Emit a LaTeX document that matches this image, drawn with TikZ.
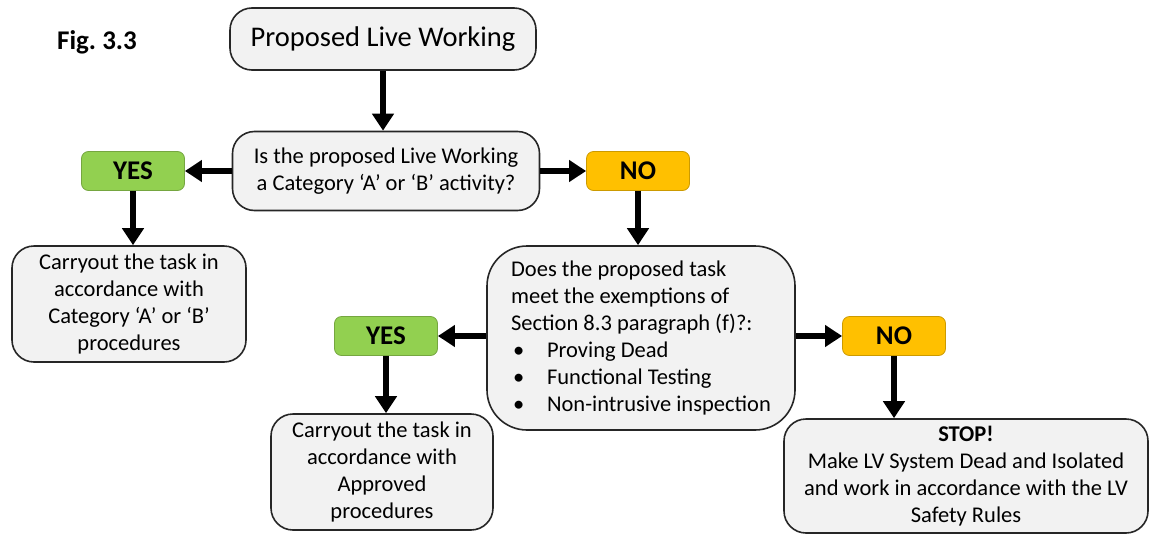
\documentclass[tikz,border=0pt]{standalone}
\usepackage{fontspec}
\setmainfont{Carlito}
\usetikzlibrary{arrows.meta}
\definecolor{yesgreen}{HTML}{92D050}
\definecolor{noorange}{HTML}{FFC000}
\definecolor{boxfill}{HTML}{F2F2F2}
\definecolor{boxline}{HTML}{262626}
\frenchspacing
\begin{document}
\begin{tikzpicture}[x=1pt,y=-1pt,
  box/.style={draw=boxline, fill=boxfill, line width=1.6pt, rounded corners=22pt, align=center,
    font=\fontsize{22.5}{27}\selectfont, inner sep=0pt},
  choice/.style={line width=0.8pt, rounded corners=7pt, minimum width=103pt, minimum height=39pt,
    font=\fontsize{27}{30}\selectfont\bfseries, inner sep=0pt},
  yesbox/.style={choice, fill=yesgreen, draw=yesgreen!80!black},
  nobox/.style={choice, fill=noorange, draw=noorange!80!black},
  arr/.style={line width=6.5pt, -{Triangle[width=21pt,length=17pt]}}
]
\useasboundingbox (0,0) rectangle (1150,533);

\node[font=\fontsize{27}{30}\selectfont\bfseries] (fig) at (97,42) {Fig. 3.3};

\node[box, minimum width=306pt, minimum height=62pt, font=\fontsize{28.5}{32}\selectfont] (top) at (383,39) {Proposed Live Working};

\node[box, minimum width=307pt, minimum height=79pt] (d1) at (386,171)
  {Is the proposed Live Working\\a Category ‘A’ or ‘B’ activity?};

\node[yesbox] (yes1) at (133,171) {YES};
\node[nobox] (no1) at (638,171) {NO};

\node[box, minimum width=234pt, minimum height=116pt] (c1) at (129,304)
  {Carryout the task in\\accordance with\\Category ‘A’ or ‘B’\\procedures};

\node[box, rounded corners=40pt, minimum width=308pt, minimum height=184pt, align=left] (d2) at (641,338)
  {Does the proposed task\\meet the exemptions of\\Section 8.3 paragraph (f)?:\\
   \makebox[36pt][l]{\hspace{2pt}•}Proving Dead\\
   \makebox[36pt][l]{\hspace{2pt}•}Functional Testing\\
   \makebox[36pt][l]{\hspace{2pt}•}Non-intrusive inspection};

\node[yesbox] (yes2) at (386,336) {YES};
\node[nobox] (no2) at (894,336) {NO};

\node[box, minimum width=222pt, minimum height=116pt] (c2) at (382,472)
  {Carryout the task in\\accordance with\\Approved\\procedures};

\node[box, minimum width=364pt, minimum height=114pt] (stop) at (966,476)
  {\textbf{STOP!}\\Make LV System Dead and Isolated\\and work in accordance with the LV\\Safety Rules};

\draw[arr] (top.south) -- (top.south |- d1.north);
\draw[arr] (d1.west) -- (yes1.east);
\draw[arr] (d1.east) -- (no1.west);
\draw[arr] (yes1.south) -- (yes1.south |- c1.north);
\draw[arr] (no1.south) -- (no1.south |- d2.north);
\draw[arr] (d2.west |- yes2.east) -- (yes2.east);
\draw[arr] (d2.east |- no2.west) -- (no2.west);
\draw[arr] (yes2.south) -- (yes2.south |- c2.north);
\draw[arr] (no2.south) -- (no2.south |- stop.north);
\end{tikzpicture}
\end{document}
